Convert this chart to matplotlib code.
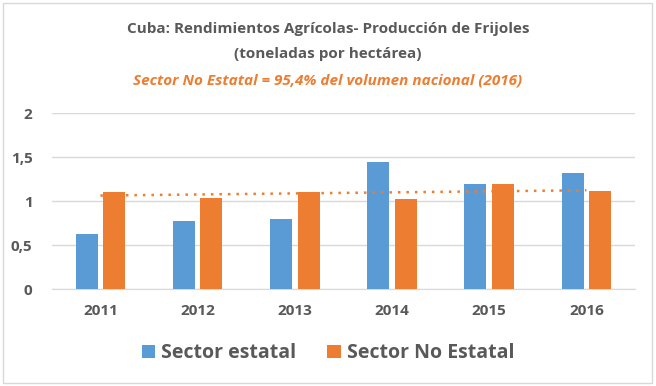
import numpy as np
import matplotlib.pyplot as plt
from matplotlib.patches import Rectangle

years = ["2011", "2012", "2013", "2014", "2015", "2016"]
estatal = [0.63, 0.77, 0.80, 1.45, 1.20, 1.32]
no_estatal = [1.10, 1.04, 1.10, 1.02, 1.19, 1.11]

azul = "#5B9BD5"
naranja = "#ED7D31"
gris = "#595959"

plt.rcParams["font.family"] = ["Open Sans", "DejaVu Sans"]

fig = plt.figure(figsize=(6.56, 3.86), dpi=100)
ax = fig.add_axes([0.079, 0.251, 0.889, 0.456])

x = np.arange(len(years))
w = 0.225
ax.bar(x - 0.142, estatal, w, color=azul, label="Sector estatal", zorder=3)
ax.bar(x + 0.142, no_estatal, w, color=naranja, label="Sector No Estatal", zorder=3)

# linea de tendencia lineal (sector no estatal)
m, b = np.polyfit(x, no_estatal, 1)
ax.plot(x, m * x + b, color=naranja, linestyle=(0, (1, 2.4)), linewidth=1.8, zorder=4)

ax.set_ylim(0, 2)
ax.set_xlim(-0.5, 5.5)
ax.set_yticks([0, 0.5, 1, 1.5, 2])
ax.set_yticklabels(["0", "0,5", "1", "1,5", "2"])
ax.set_xticks(x)
ax.set_xticklabels(years)
ax.grid(axis="y", color="#D9D9D9", linewidth=1, zorder=0)
for s in ["top", "right", "left"]:
    ax.spines[s].set_visible(False)
ax.spines["bottom"].set_color("#D9D9D9")
ax.tick_params(length=0, labelsize=11, labelcolor=gris, pad=11)
ax.tick_params(axis="y", pad=14)
for t in ax.get_xticklabels() + ax.get_yticklabels():
    t.set_fontweight("bold")

fig.text(0.5, 0.925, "Cuba: Rendimientos Agrícolas- Producción de Frijoles",
         ha="center", va="center", fontsize=11, fontweight="bold", color=gris)
fig.text(0.5, 0.861, "(toneladas por hectárea)",
         ha="center", va="center", fontsize=11, fontweight="bold", color=gris)
fig.text(0.5, 0.792, "Sector No Estatal = 95,4% del volumen nacional (2016)",
         ha="center", va="center", fontsize=11, fontweight="bold",
         fontstyle="italic", color=naranja)

fig.legend(loc="center", bbox_to_anchor=(0.5, 0.085), ncol=2, frameon=False,
           prop={"size": 14, "weight": "bold"}, labelcolor=gris,
           handlelength=0.7, handleheight=0.7, handletextpad=0.3, columnspacing=1.6)

fig.patches.append(Rectangle((0.004, 0.008), 0.99, 0.985, transform=fig.transFigure,
                             fill=False, edgecolor="#D9D9D9", linewidth=1))

fig.savefig("out.png", dpi=100)
